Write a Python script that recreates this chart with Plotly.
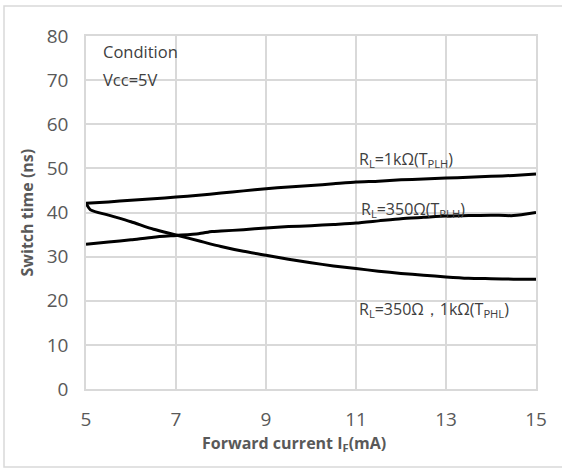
import plotly.graph_objects as go

# Forward current (mA)
x_plh_1k = [5, 5.5, 6, 6.5, 7, 7.5, 8, 8.5, 9, 9.5, 10, 10.5, 11, 11.5, 12, 12.5, 13, 13.5, 14, 14.5, 15]
y_plh_1k = [42.1, 42.4, 42.8, 43.1, 43.5, 43.9, 44.4, 44.9, 45.4, 45.8, 46.1, 46.5, 46.9, 47.1, 47.4, 47.6, 47.8, 48.0, 48.2, 48.4, 48.7]

x_plh_350 = [5, 5.5, 6, 6.5, 7, 7.5, 7.8, 8, 8.5, 9, 9.5, 10, 10.5, 11, 11.5, 12, 12.5, 13, 13.5, 14, 14.5, 15]
y_plh_350 = [32.8, 33.3, 33.8, 34.4, 34.8, 35.2, 35.7, 35.8, 36.1, 36.5, 36.8, 37.0, 37.3, 37.6, 38.1, 38.6, 38.9, 39.2, 39.3, 39.4, 39.3, 40.0]

x_phl = [5, 5.1, 5.5, 6, 6.5, 7, 7.5, 8, 8.5, 9, 9.5, 10, 10.5, 11, 11.5, 12, 12.5, 13, 13.5, 14, 14.5, 15]
y_phl = [42.1, 40.6, 39.4, 37.9, 36.2, 34.9, 33.6, 32.3, 31.2, 30.3, 29.4, 28.6, 27.9, 27.3, 26.7, 26.2, 25.8, 25.4, 25.1, 25.0, 24.9, 24.9]

x_ticks = [5, 7, 9, 11, 13, 15]
y_ticks = [0, 10, 20, 30, 40, 50, 60, 70, 80]

labels = [
    (11.02, 51.9, "R<sub>L</sub>=1kΩ(T<sub>PLH</sub>)", 16),
    (11.07, 40.6, "R<sub>L</sub>=350Ω(T<sub>PLH</sub>)", 16),
    (11.02, 18.1, "R<sub>L</sub>=350Ω，1kΩ(T<sub>PHL</sub>)", 16),
    (5.33, 76.6, "Condition", 16.5),
    (5.33, 70.1, "Vcc=5V", 16.5),
]

FONT = "Open Sans"
GRAY = "#595959"
GRID = "#d9d9d9"

W, H = 562, 468
L, T = 86, 36
PW, PH = 450, 353

fig = go.Figure()
for xs, ys in [(x_plh_1k, y_plh_1k), (x_plh_350, y_plh_350), (x_phl, y_phl)]:
    fig.add_trace(go.Scatter(x=xs, y=ys, mode="lines",
                             line=dict(color="black", width=3, shape="spline", smoothing=0.6),
                             showlegend=False, hoverinfo="skip"))

for lx, ly, txt, fs in labels:
    fig.add_annotation(x=lx, y=ly, text=txt, showarrow=False, xanchor="left", yanchor="middle",
                       font=dict(family=FONT, size=fs, color="#404040"))

fig.add_annotation(xref="paper", yref="paper", x=(294 - L) / PW, y=(T + PH - 443) / PH,
                   text="<b>Forward current I<sub>F</sub>(mA)</b>", showarrow=False,
                   xanchor="center", yanchor="middle",
                   font=dict(family=FONT, size=16, color=GRAY))
fig.add_annotation(xref="paper", yref="paper", x=(26 - L) / PW, y=0.5,
                   text="<b>Switch time (ns)</b>", showarrow=False, textangle=-90,
                   xanchor="center", yanchor="middle",
                   font=dict(family=FONT, size=16, color=GRAY))

fig.add_shape(type="rect", xref="paper", yref="paper",
              x0=(4 - L) / PW, x1=(564 - L) / PW, y0=(T + PH - 467) / PH, y1=(T + PH - 6) / PH,
              line=dict(color=GRID, width=1.5), fillcolor="rgba(0,0,0,0)", layer="below")

fig.update_xaxes(range=[5, 15], tickvals=x_ticks, showgrid=True, gridcolor=GRID, gridwidth=1.5,
                 zeroline=False, showline=True, linecolor=GRID, linewidth=1.5, mirror=True,
                 ticks="", tickfont=dict(family=FONT, size=19, color=GRAY), ticklabelstandoff=12)
fig.update_yaxes(range=[0, 80], tickvals=y_ticks, showgrid=True, gridcolor=GRID, gridwidth=1.5,
                 zeroline=False, showline=True, linecolor=GRID, linewidth=1.5, mirror=True,
                 ticks="", tickfont=dict(family=FONT, size=19, color=GRAY), ticklabelstandoff=12)

fig.update_layout(width=W, height=H, margin=dict(l=L, r=W - L - PW, t=T, b=H - T - PH),
                  paper_bgcolor="white", plot_bgcolor="white")

fig.write_html("out.html", config={"displayModeBar": False},
               post_script="document.body.style.margin='0';document.body.style.overflow='hidden';")
